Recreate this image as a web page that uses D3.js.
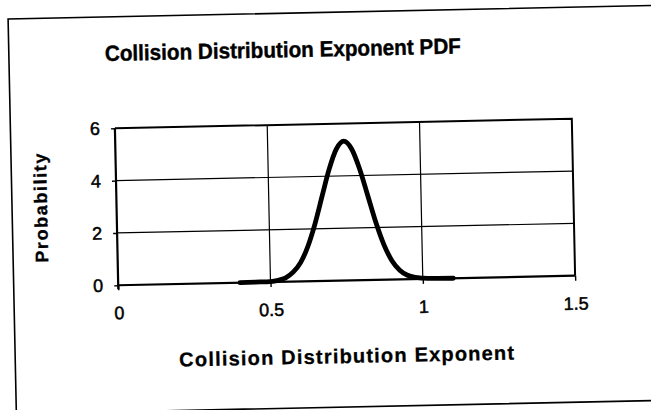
<!DOCTYPE html>
<html><head><meta charset="utf-8">
<script src="https://cdn.jsdelivr.net/npm/d3@7"></script>
<style>body{margin:0;background:#fff} svg{display:block}</style>
</head><body>
<svg id="c" width="651" height="410"></svg>
<script>
const titleText = "Collision Distribution Exponent PDF";
const xLabel = "Collision Distribution Exponent";
const yLabel = "Probability";
const xTicks = [0, 0.5, 1, 1.5];
const yTicks = [0, 2, 4, 6];
const xVals = [0.40,0.45,0.50,0.525,0.55,0.575,0.60,0.625,0.65,0.675,0.70,0.725,0.75,0.775,0.80,0.825,0.85,0.875,0.90,0.925,0.95,0.975,1.00,1.05,1.10];
const pdfVals = [0.00,0.01,0.02,0.06,0.15,0.36,0.72,1.33,2.19,3.23,4.26,5.03,5.33,5.03,4.26,3.23,2.19,1.33,0.72,0.35,0.15,0.06,0.03,0.01,0.00];

const svg = d3.select("#c");
const font = "'Liberation Sans', Arial, sans-serif";
const g = svg.append("g").attr("transform", "rotate(-1.2,345,202)");

const L = 116.5, R = 573.5, T = 123.5, B = 280.5;
const x = d3.scaleLinear().domain([0, 1.5]).range([L, R]);
const y = d3.scaleLinear().domain([0, 6]).range([B, T]);

// outer chart frame
g.append("rect").attr("x", 12).attr("y", 12).attr("width", 720).attr("height", 395)
  .attr("fill", "none").attr("stroke", "#000").attr("stroke-width", 1.6);

// gridlines
g.append("g").selectAll("line").data(yTicks.filter(d => d > 0 && d < 6)).join("line")
  .attr("x1", L).attr("x2", R).attr("y1", d => y(d)).attr("y2", d => y(d))
  .attr("stroke", "#000").attr("stroke-width", 1.2);
g.append("g").selectAll("line").data(xTicks.filter(d => d > 0 && d < 1.5)).join("line")
  .attr("y1", T).attr("y2", B).attr("x1", d => x(d)).attr("x2", d => x(d))
  .attr("stroke", "#000").attr("stroke-width", 1.2);

// plot border (top/right)
g.append("path").attr("d", `M${L},${T}H${R}V${B}`).attr("fill", "none")
  .attr("stroke", "#000").attr("stroke-width", 2);

// axes
const xAxis = d3.axisBottom(x).tickValues(xTicks).tickSize(5).tickPadding(11)
  .tickFormat(d3.format("~g"));
const yAxis = d3.axisLeft(y).tickValues(yTicks).tickSize(4).tickPadding(11)
  .tickFormat(d3.format("~g"));
const gx = g.append("g").attr("transform", `translate(0,${B})`).call(xAxis);
const gy = g.append("g").attr("transform", `translate(${L},0)`).call(yAxis);
[gx, gy].forEach(a => {
  a.attr("font-size", null).attr("font-family", null);
  a.select(".domain").attr("stroke", "#000").attr("stroke-width", 2.2);
  a.selectAll(".tick line").attr("stroke", "#000").attr("stroke-width", 1.4);
  a.selectAll(".tick text").attr("fill", "#000").attr("stroke", "#000").attr("stroke-width", 0.5)
    .style("font-family", font).style("font-size", "18px");
});
gx.select(".domain").attr("d", `M${L},0H${R}`);
gy.select(".domain").attr("d", `M0,${T}V${B + 4}`);
gx.selectAll(".tick text").attr("dy", "1em");

// curve
const pts = xVals.map((v, i) => [v, pdfVals[i]]);
g.append("path").datum(pts)
  .attr("d", d3.line().x(d => x(d[0])).y(d => y(d[1])).curve(d3.curveMonotoneX))
  .attr("fill", "none").attr("stroke", "#000").attr("stroke-width", 4.8)
  .attr("stroke-linejoin", "round").attr("stroke-linecap", "round");

// texts
g.append("text").attr("transform", "translate(286,56) scale(0.94,1)").attr("text-anchor", "middle")
  .attr("stroke", "#000").attr("stroke-width", 0.4)
  .style("font-family", font).style("font-weight", "bold").style("font-size", "22px")
  .text(titleText);
g.append("text").attr("x", 344).attr("y", 363).attr("text-anchor", "middle")
  .attr("stroke", "#000").attr("stroke-width", 0.3)
  .style("font-family", font).style("font-weight", "bold").style("font-size", "20px")
  .style("letter-spacing", "1.2px").text(xLabel);
g.append("text").attr("transform", "translate(47,201) rotate(-90)").attr("text-anchor", "middle")
  .attr("stroke", "#000").attr("stroke-width", 0.3)
  .style("font-family", font).style("font-weight", "bold").style("font-size", "18px")
  .style("letter-spacing", "1.6px").text(yLabel);
</script>
</body></html>
